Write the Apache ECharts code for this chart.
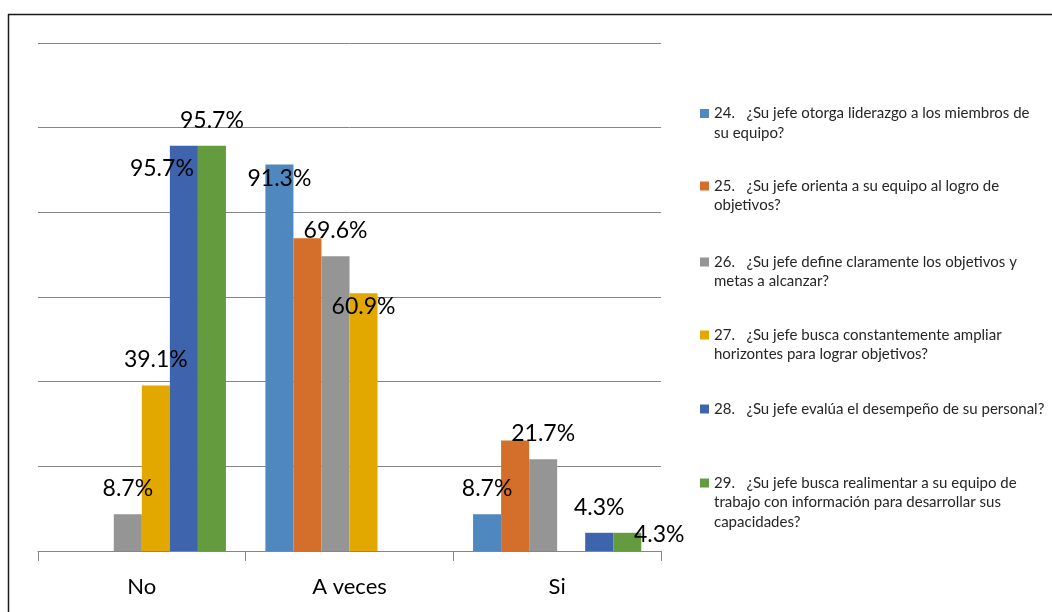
<!DOCTYPE html>
<html><head><meta charset="utf-8">
<script src="https://cdn.jsdelivr.net/npm/echarts@6/dist/echarts.min.js"></script>
<style>html,body{margin:0;padding:0;background:#fff}#c{width:1052px;height:612px}</style>
</head><body><div id="c"></div>
<script>
// ---- data ----
const categories = ['No', 'A veces', 'Si'];
const seriesNames = [
  '24.   ¿Su jefe otorga liderazgo a los miembros de su equipo?',
  '25.   ¿Su jefe orienta a su equipo al logro de objetivos?',
  '26.   ¿Su jefe define claramente los objetivos y metas a alcanzar?',
  '27.   ¿Su jefe busca constantemente ampliar horizontes para lograr objetivos?',
  '28.   ¿Su jefe evalúa el desempeño de su personal?',
  '29.   ¿Su jefe busca realimentar a su equipo de trabajo con información para desarrollar sus capacidades?'
];
const q24 = [0, 91.3, 8.7];
const q25 = [0, 73.9, 26.1];
const q26 = [8.7, 69.6, 21.7];
const q27 = [39.1, 60.9, 0];
const q28 = [95.7, 0, 4.3];
const q29 = [95.7, 0, 4.3];
const yTicks = [0, 20, 40, 60, 80, 100, 120];

// ---- styling ----
const values = [q24, q25, q26, q27, q28, q29];
const colors = ['#4F88BE', '#D36E2B', '#959595', '#E2A800', '#3D64AD', '#649B3E'];
const legendLines = [
  ['24.   ¿Su jefe otorga liderazgo a los miembros de', 'su equipo?'],
  ['25.   ¿Su jefe orienta a su equipo al logro de', 'objetivos?'],
  ['26.   ¿Su jefe define claramente los objetivos y', 'metas a alcanzar?'],
  ['27.   ¿Su jefe busca constantemente ampliar', 'horizontes para lograr objetivos?'],
  ['28.   ¿Su jefe evalúa el desempeño de su personal?'],
  ['29.   ¿Su jefe busca realimentar a su equipo de', 'trabajo con información para desarrollar sus', 'capacidades?']
];
const legendCenters = [113.5, 186, 262, 335, 409, 483];
const LH = 19.5;
const FONT = 'Lato';
// label tweaks (series index -> category index -> label style)
const labelTweaks = {
  1: {1: {show: false}, 2: {show: false}},
  0: {1: {offset: [0, 40]}},
  3: {1: {offset: [0, 39]}},
  4: {0: {offset: [-22, 48]}},
  5: {2: {offset: [32, 27]}}
};

const series = values.map((vals, si) => ({
  name: seriesNames[si],
  type: 'bar',
  barGap: '0%',
  barCategoryGap: '19%',
  itemStyle: {color: colors[si]},
  label: {
    show: true, position: 'top', distance: 14,
    fontFamily: FONT, fontSize: 23, color: '#000',
    formatter: p => p.value.toFixed(1) + '%'
  },
  data: vals.map((v, ci) => {
    const tw = (labelTweaks[si] && labelTweaks[si][ci]) || {};
    const lab = Object.assign({}, v === 0 ? {show: false} : {}, tw);
    return {value: v, label: lab};
  })
}));

const legends = seriesNames.map((n, i) => {
  const lines = legendLines[i];
  const total = 2 * lines.length - 1;
  return {
    data: [n], left: 700, top: legendCenters[i] - total * LH / 2,
    padding: 0, orient: 'vertical', icon: 'rect', itemWidth: 9, itemHeight: 9,
    selectedMode: false,
    textStyle: {fontFamily: FONT, fontSize: 15, lineHeight: LH, color: '#262626'},
    formatter: () => '\n'.repeat(lines.length - 1) + lines.join('\n')
  };
});

const chart = echarts.init(document.getElementById('c'), null, {renderer: 'canvas'});
chart.setOption({
  animation: false,
  backgroundColor: '#fff',
  grid: {left: 38, right: 391, top: 43, bottom: 61},
  legend: legends,
  xAxis: {
    type: 'category', data: categories,
    axisLine: {lineStyle: {color: '#868686', width: 1}},
    axisTick: {show: true, length: 10, lineStyle: {color: '#868686'}},
    axisLabel: {fontFamily: FONT, fontSize: 22, color: '#000', margin: 25}
  },
  yAxis: {
    type: 'value', min: yTicks[0], max: yTicks[yTicks.length - 1], interval: yTicks[1] - yTicks[0],
    axisLabel: {show: false}, axisLine: {show: false}, axisTick: {show: false},
    splitLine: {lineStyle: {color: '#868686', width: 1}}
  },
  graphic: [
    {type: 'line', shape: {x1: 8, y1: 14.5, x2: 1052, y2: 14.5}, style: {stroke: '#1a1a1a', lineWidth: 1.5}},
    {type: 'line', shape: {x1: 8.5, y1: 14, x2: 8.5, y2: 612}, style: {stroke: '#1a1a1a', lineWidth: 1.5}}
  ],
  series: series
});
</script></body></html>
